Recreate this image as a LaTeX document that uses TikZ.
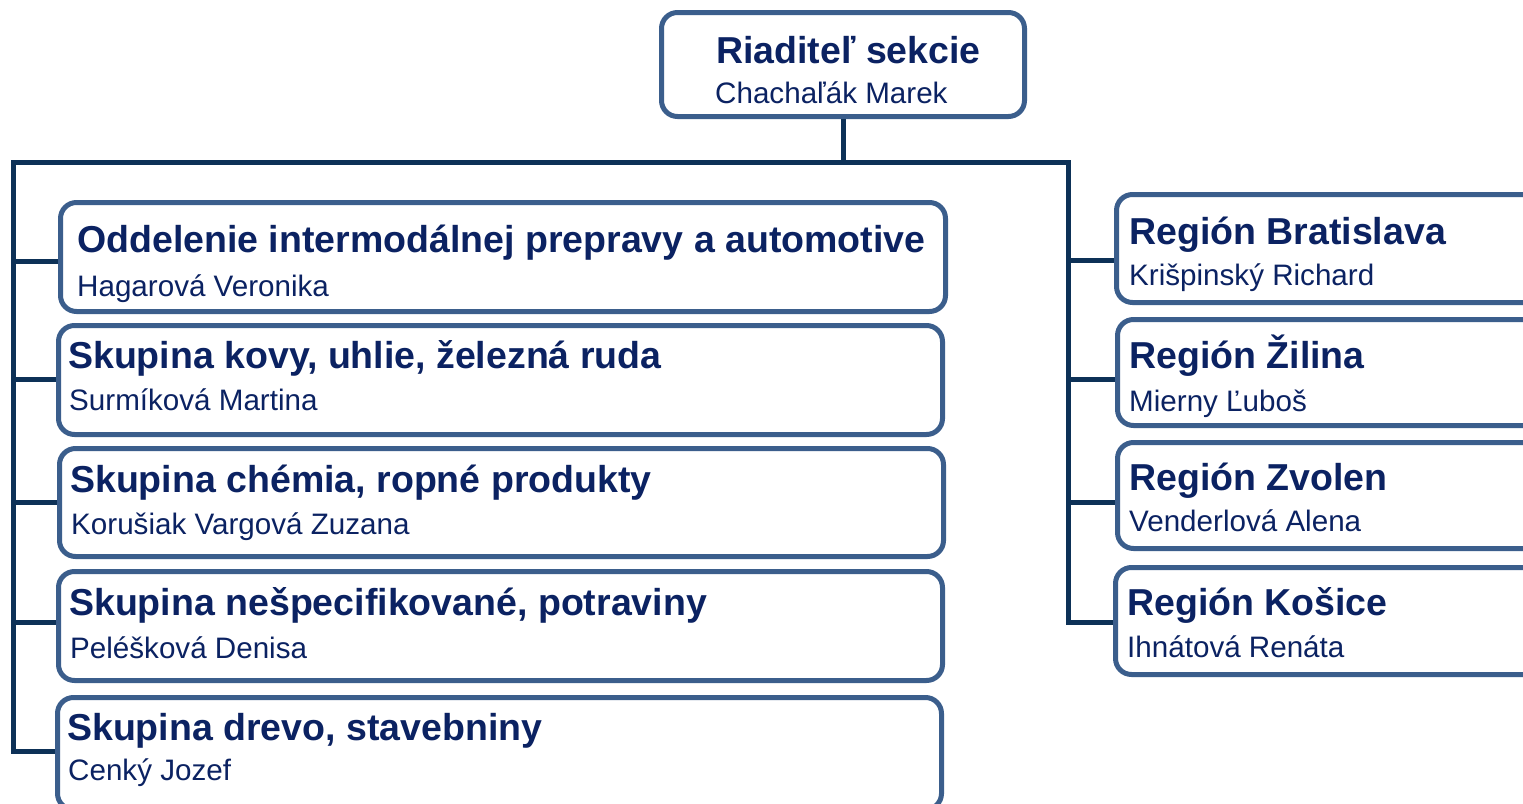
\documentclass[tikz,border=0pt]{standalone}
\usepackage{fontspec}
\setmainfont{Liberation Sans}
\definecolor{boxline}{HTML}{3B5E8C}
\definecolor{connline}{HTML}{0D3157}
\definecolor{txt}{HTML}{0B2262}
\begin{document}
\begin{tikzpicture}[x=1pt,y=-1pt,
  orgbox/.style={draw=boxline, line width=5pt, rounded corners=16pt, fill=white, inner sep=0pt, anchor=north west},
  ttl/.style={anchor=base west, inner sep=0pt, text=txt, font=\bfseries\fontsize{37.5}{40}\selectfont},
  sub/.style={anchor=base west, inner sep=0pt, text=txt, font=\fontsize{29.6}{32}\selectfont},
  connector/.style={draw=connline, line width=5pt, line join=miter}]
\useasboundingbox (0,0) rectangle (1523,803);
\clip (0,0) rectangle (1523,803);

% boxes (outer coordinates: x, y, width-5, height-5)
\node[orgbox, minimum width=363pt, minimum height=104pt] (top) at (659,10) {};
\node[orgbox, minimum width=885pt, minimum height=109pt] (b1) at (58,200) {};
\node[orgbox, minimum width=884pt, minimum height=109pt] (b2) at (56,323) {};
\node[orgbox, minimum width=884pt, minimum height=108pt] (b3) at (57,446) {};
\node[orgbox, minimum width=884pt, minimum height=109pt] (b4) at (56,569) {};
\node[orgbox, minimum width=884pt, minimum height=112pt] (b5) at (55,695) {};
\node[orgbox, minimum width=445pt, minimum height=108pt] (r1) at (1114,192) {};
\node[orgbox, minimum width=445pt, minimum height=106pt] (r2) at (1115,317) {};
\node[orgbox, minimum width=445pt, minimum height=106pt] (r3) at (1115,440) {};
\node[orgbox, minimum width=445pt, minimum height=107pt] (r4) at (1113,565) {};

% texts
\node[ttl] (topT) at (716,63) {Riaditeľ sekcie};
\node[sub] (topS) at (715,103) {Chachaľák Marek};
\node[ttl] (b1T) at (77,252) {Oddelenie intermodálnej prepravy a automotive};
\node[sub] (b1S) at (77,296) {Hagarová Veronika};
\node[ttl] (b2T) at (68,368) {Skupina kovy, uhlie, železná ruda};
\node[sub] (b2S) at (69,410) {Surmíková Martina};
\node[ttl] (b3T) at (70,492) {Skupina chémia, ropné produkty};
\node[sub] (b3S) at (71,534) {Korušiak Vargová Zuzana};
\node[ttl] (b4T) at (69,615) {Skupina nešpecifikované, potraviny};
\node[sub] (b4S) at (70,658) {Peléšková Denisa};
\node[ttl] (b5T) at (67,740) {Skupina drevo, stavebniny};
\node[sub] (b5S) at (68,780) {Cenký Jozef};
\node[ttl] (r1T) at (1129,244) {Región Bratislava};
\node[sub] (r1S) at (1129,285) {Krišpinský Richard};
\node[ttl] (r2T) at (1129,368) {Región Žilina};
\node[sub] (r2S) at (1129,411) {Mierny Ľuboš};
\node[ttl] (r3T) at (1129,490) {Región Zvolen};
\node[sub] (r3S) at (1129,531) {Venderlová Alena};
\node[ttl] (r4T) at (1127,615) {Región Košice};
\node[sub] (r4S) at (1127,657) {Ihnátová Renáta};

% connector coordinates
\coordinate (hl) at (13,162);
\coordinate (hr) at (1068,162);
\coordinate (jL1) at (13,261);
\coordinate (jL2) at (13,379);
\coordinate (jL3) at (13,502);
\coordinate (jL4) at (13,622);
\coordinate (jL5) at (13,751);
\coordinate (jR1) at (1068,260);
\coordinate (jR2) at (1068,379);
\coordinate (jR3) at (1068,502);
\coordinate (jR4) at (1068,622);

% connectors
\draw[connector] (top.south) -- (top.south |- hl);
\draw[connector] (jL5 -| b5.west) -- (jL5) -- (hl) -- (hr) -- (jR4) -- (jR4 -| r4.west);
\draw[connector] (jL1) -- (jL1 -| b1.west);
\draw[connector] (jL2) -- (jL2 -| b2.west);
\draw[connector] (jL3) -- (jL3 -| b3.west);
\draw[connector] (jL4) -- (jL4 -| b4.west);
\draw[connector] (jR1) -- (jR1 -| r1.west);
\draw[connector] (jR2) -- (jR2 -| r2.west);
\draw[connector] (jR3) -- (jR3 -| r3.west);
\end{tikzpicture}
\end{document}
